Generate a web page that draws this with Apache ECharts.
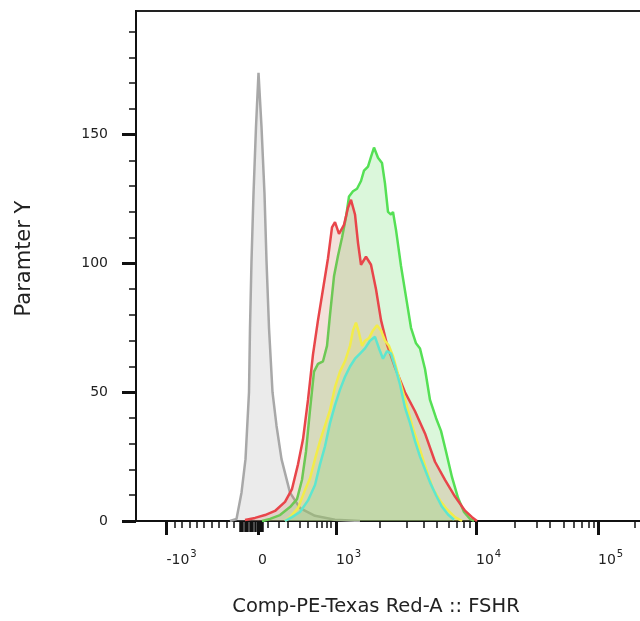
<!DOCTYPE html>
<html>
<head>
<meta charset="utf-8">
<script src="https://cdn.jsdelivr.net/npm/echarts@6/dist/echarts.min.js"></script>
<style>
html,body{margin:0;padding:0;background:#fff;}
#chart{width:640px;height:621px;}
</style>
</head>
<body>
<div id="chart"></div>
<script>
// x values are in display (channel) units of the biexponential axis, 0..1026
const xMajorTicks = [61, 244, 400, 680, 924];
const xTickBase = ['-10', '0', '10', '10', '10'];
const xTickExp = ['3', '', '3', '4', '5'];
const xZeroBlockTicks = [208, 213, 218, 223, 228, 233, 238, 244, 249, 253];
const xMinorTicks = [78, 92, 107, 122, 136, 151, 166, 181, 195, 264, 286, 304, 328, 344, 361, 372, 381, 390,
  488, 541, 575, 601, 625, 641, 655, 668, 758, 801, 828, 855, 875, 891, 905, 915, 998];
const yMajorTicks = [0, 50, 100, 150];
const yMinorTicks = [10, 20, 30, 40, 60, 70, 80, 90, 110, 120, 130, 140, 160, 170, 180, 190];

const greyX = [188, 201, 211, 219, 226, 228, 231, 235, 240, 245, 251, 257, 261, 266, 273, 281, 291, 308, 328, 358, 398, 448];
const greyY = [0, 0.8, 11, 24, 50, 75, 101, 127, 153, 174, 153, 127, 101, 75, 50, 37, 24, 11, 5, 2, 0.5, 0];

const redX = [218, 238, 258, 278, 298, 312, 324, 334, 344, 354, 364, 374, 384, 392, 398, 406, 416, 424, 430, 438, 444, 450, 460, 470, 480, 490, 502, 518, 538, 558, 578, 598, 618, 638, 658, 672, 682];
const redY = [0.4, 1.2, 2.3, 3.9, 7.4, 12.4, 22, 31.7, 47, 64.7, 78, 90, 102, 114, 116, 111.5, 115, 121.6, 124.7, 119, 108, 99.5, 102.6, 99.5, 90, 78, 68.5, 59.6, 50, 42.6, 34, 23, 16, 9.5, 4, 1.5, 0];

const greenX = [252, 268, 288, 308, 322, 332, 340, 348, 356, 364, 374, 382, 388, 396, 404, 412, 420, 426, 434, 442, 450, 456, 464, 470, 476, 484, 492, 498, 504, 510, 514, 520, 530, 540, 550, 560, 568, 578, 588, 600, 610, 620, 632, 644, 656, 668, 676];
const greenY = [0, 0.8, 2.3, 5.4, 8.5, 16, 27, 43, 58, 61, 62, 68, 80, 95, 103, 110, 118, 126, 128, 129, 132, 136, 137.6, 141.4, 145, 141, 139, 131, 120, 119, 120, 113, 99, 87, 75, 69, 67, 59, 47, 40, 35, 27, 17, 9, 3.5, 0.8, 0];

const yellowX = [298, 308, 324, 338, 348, 358, 368, 378, 388, 398, 408, 418, 428, 434, 440, 446, 452, 458, 466, 474, 482, 490, 498, 506, 514, 524, 534, 544, 554, 564, 574, 584, 594, 608, 622, 638, 652];
const yellowY = [0, 1.5, 5, 12, 16.5, 24, 31, 37, 43, 52, 58, 62, 68, 74, 77, 73, 68, 70, 71, 74, 76, 74, 70, 68, 64, 57, 50, 43, 36, 30, 24, 18, 12.5, 8, 4.5, 1.5, 0];

const cyanX = [298, 312, 328, 344, 358, 368, 378, 388, 398, 408, 418, 428, 438, 448, 458, 468, 478, 486, 494, 502, 510, 518, 528, 538, 548, 558, 568, 578, 588, 600, 612, 624, 636];
const cyanY = [0, 1.5, 3.5, 8, 14, 22, 29, 38, 45, 51, 56, 60, 63, 65, 67, 70, 71.5, 67, 63, 66, 65, 60, 53, 44, 38, 31, 25, 20, 15, 10, 5.5, 2.5, 0.5];

const zip = (xs, ys) => xs.map((x, i) => [x, ys[i]]);
const FONT = 'DejaVu Sans';
const TXT = '#222';

function hist(name, xs, ys, line, fill, z) {
  return {
    name, type: 'line', xAxisIndex: 0, yAxisIndex: 0,
    data: zip(xs, ys), showSymbol: false, symbol: 'none', smooth: false, z,
    lineStyle: { color: line, width: 2.5 },
    areaStyle: { color: fill, origin: 'start' },
    emphasis: { disabled: true }, silent: true
  };
}

const chart = echarts.init(document.getElementById('chart'), null, { renderer: 'canvas' });
chart.setOption({
  animation: false,
  backgroundColor: '#fff',
  grid: { left: 136, width: 513, top: 11, height: 510, show: true, borderColor: '#222', borderWidth: 2, containLabel: false, outerBoundsMode: 'none' },
  xAxis: [
    {
      type: 'value', min: 0, max: 1026, position: 'bottom',
      name: 'Comp-PE-Texas Red-A :: FSHR', nameLocation: 'middle', nameGap: 76,
      nameTextStyle: { fontFamily: FONT, fontSize: 19.5, color: TXT, padding: [0, 33, 0, 0] },
      axisLine: { show: true, lineStyle: { color: '#111', width: 2 } },
      axisTick: { show: true, customValues: xMajorTicks, length: 14, lineStyle: { color: '#111', width: 3 } },
      axisLabel: {
        show: true, customValues: xMajorTicks, align: 'left', margin: 28,
        formatter: (v) => {
          const i = xMajorTicks.indexOf(v);
          return '{b|' + xTickBase[i] + '}{s|' + (xTickExp[i] || ' ') + '}';
        },
        rich: {
          b: { fontFamily: FONT, fontSize: 14, color: TXT, lineHeight: 18, verticalAlign: 'bottom' },
          s: { fontFamily: FONT, fontSize: 10, color: TXT, lineHeight: 10, padding: [0, 0, 14, 1], verticalAlign: 'top' }
        }
      },
      splitLine: { show: false }
    },
    {
      type: 'value', min: 0, max: 1026, position: 'bottom',
      axisLine: { show: false },
      axisTick: { show: true, customValues: xMinorTicks, length: 7, lineStyle: { color: '#111', width: 1.5 } },
      axisLabel: { show: false },
      splitLine: { show: false }
    },
    {
      type: 'value', min: 0, max: 1026, position: 'bottom',
      axisLine: { show: false },
      axisTick: { show: true, customValues: xZeroBlockTicks, length: 11, lineStyle: { color: '#111', width: 2.5 } },
      axisLabel: { show: false },
      splitLine: { show: false }
    }
  ],
  yAxis: [
    {
      type: 'value', min: 0, max: 198, position: 'left',
      name: 'Paramter Y', nameLocation: 'middle', nameGap: 101,
      nameTextStyle: { fontFamily: FONT, fontSize: 21, color: TXT, padding: [0, 0, 0, 15] },
      axisLine: { show: true, lineStyle: { color: '#111', width: 2 } },
      axisTick: { show: true, customValues: yMajorTicks, length: 14, lineStyle: { color: '#111', width: 3 } },
      axisLabel: { show: true, customValues: yMajorTicks, margin: 28, fontFamily: FONT, fontSize: 14, color: TXT },
      splitLine: { show: false }
    },
    {
      type: 'value', min: 0, max: 198, position: 'left',
      axisLine: { show: false },
      axisTick: { show: true, customValues: yMinorTicks, length: 7, lineStyle: { color: '#111', width: 1.5 } },
      axisLabel: { show: false },
      splitLine: { show: false }
    }
  ],
  series: [
    hist('Grey', greyX, greyY, '#a8a8a8', 'rgba(180,180,180,0.38)', 1),
    hist('Green', greenX, greenY, '#55e055', 'rgba(100,220,100,0.33)', 2),
    hist('Red', redX, redY, '#e8454a', 'rgba(205,115,85,0.3)', 3),
    hist('Yellow', yellowX, yellowY, '#f2ec4a', 'rgba(225,215,60,0.25)', 4),
    hist('Cyan', cyanX, cyanY, '#5ee6cf', 'rgba(90,210,180,0.25)', 5)
  ]
});
</script>
</body>
</html>
